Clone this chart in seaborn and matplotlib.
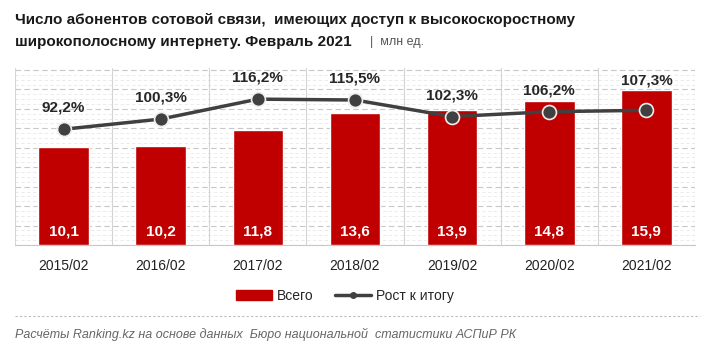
import matplotlib
matplotlib.use('Agg')
import matplotlib.pyplot as plt
import seaborn as sns
import pandas as pd
from matplotlib.ticker import MultipleLocator
from matplotlib.lines import Line2D
from matplotlib.patches import Patch

# данные
periods = ['2015/02', '2016/02', '2017/02', '2018/02', '2019/02', '2020/02', '2021/02']
total = [10.1, 10.2, 11.8, 13.6, 13.9, 14.8, 15.9]
growth = [92.2, 100.3, 116.2, 115.5, 102.3, 106.2, 107.3]

df = pd.DataFrame({'period': periods, 'total': total, 'growth': growth})

sns.set_style('white')
plt.rcParams['font.family'] = ['Liberation Sans Narrow', 'Liberation Sans', 'DejaVu Sans']

fig = plt.figure(figsize=(7.2, 3.57), dpi=100)
ax = fig.add_axes([15 / 720, 1 - 245 / 357, 680 / 720, 177 / 357])

red = '#C00000'
ymax1, ymax2 = 18.2, 141
sns.barplot(data=df, x='period', y='total', color=red, width=0.52, saturation=1, ax=ax, zorder=3)
ax.set_ylim(0, ymax1)
ax.set_xlim(-0.5, len(periods) - 0.5)

# сетка
ax.yaxis.set_major_locator(MultipleLocator(2))
ax.yaxis.set_minor_locator(MultipleLocator(0.5))
ax.grid(axis='y', which='major', color='#c8c8c8', linestyle=(0, (5, 3)), linewidth=0.8, zorder=0)
ax.grid(axis='y', which='minor', color='#e8e8e8', linestyle=(0, (4, 3)), linewidth=0.6, zorder=0)
for i in range(len(periods) + 1):
    ax.axvline(i - 0.5, color='#d4d4d4', linewidth=0.8, zorder=1)
for s in ['top', 'right', 'left']:
    ax.spines[s].set_visible(False)
ax.spines['bottom'].set_color('#c8c8c8')
ax.tick_params(axis='y', which='both', left=False, right=False, labelleft=False, length=0)
ax.set_xlabel('')
ax.set_ylabel('')
ax.tick_params(axis='x', length=0, labelsize=10, colors='#222222', pad=10)

for i, v in enumerate(total):
    ax.text(i, 1.4, f'{v:.1f}'.replace('.', ','), ha='center', va='center',
            color='white', fontsize=11, fontweight='bold', zorder=5)

ax2 = ax.twinx()
sns.lineplot(data=df, x='period', y='growth', color='#404040', linewidth=2.5, marker='o',
             markersize=10, markerfacecolor='#404040', markeredgecolor='#eeeeee',
             markeredgewidth=1.2, ax=ax2, zorder=4)
ax2.set_ylim(0, ymax2)
ax2.set_xlim(-0.5, len(periods) - 0.5)
ax2.set_yticks([])
ax2.set_ylabel('')
ax2.tick_params(axis='y', which='both', length=0)
for s in ax2.spines.values():
    s.set_visible(False)
for i, (v, t) in enumerate(zip(growth, total)):
    ypos = max(v + 17, t * ymax2 / ymax1 + 8)
    ax2.text(i, ypos, f'{v:.1f}%'.replace('.', ','), ha='center', va='center',
             color='#262626', fontsize=11, fontweight='bold')

# заголовок
fig.text(15 / 720, 1 - 20 / 357, 'Число абонентов сотовой связи,  имеющих доступ к высокоскоростному',
         fontsize=11, fontweight='bold', color='#1a1a1a', va='center')
fig.text(15 / 720, 1 - 42 / 357, 'широкополосному интернету. Февраль 2021',
         fontsize=11, fontweight='bold', color='#1a1a1a', va='center')
fig.text(370 / 720, 1 - 42 / 357, '|  млн ед.', fontsize=9, color='#555555', va='center')

# легенда
handles = [Patch(facecolor=red, edgecolor=red),
           Line2D([0], [0], color='#404040', linewidth=2.5, marker='o', markersize=4,
                  markerfacecolor='#404040')]
fig.legend(handles, ['Всего', 'Рост к итогу'], loc='center', bbox_to_anchor=(345 / 720, 1 - 296 / 357),
           ncol=2, frameon=False, fontsize=10, handlelength=2.6, handleheight=0.8, columnspacing=1.5,
           handletextpad=0.4)

fig.add_artist(Line2D([15 / 720, 700 / 720], [1 - 316 / 357, 1 - 316 / 357], color='#bbbbbb',
                      linestyle=(0, (2, 2)), linewidth=0.8))
fig.text(15 / 720, 1 - 334 / 357, 'Расчёты Ranking.kz на основе данных  Бюро национальной  статистики АСПиР РК',
         fontsize=9, style='italic', color='#666666', va='center')

fig.savefig('out.png', dpi=100, facecolor='white')
